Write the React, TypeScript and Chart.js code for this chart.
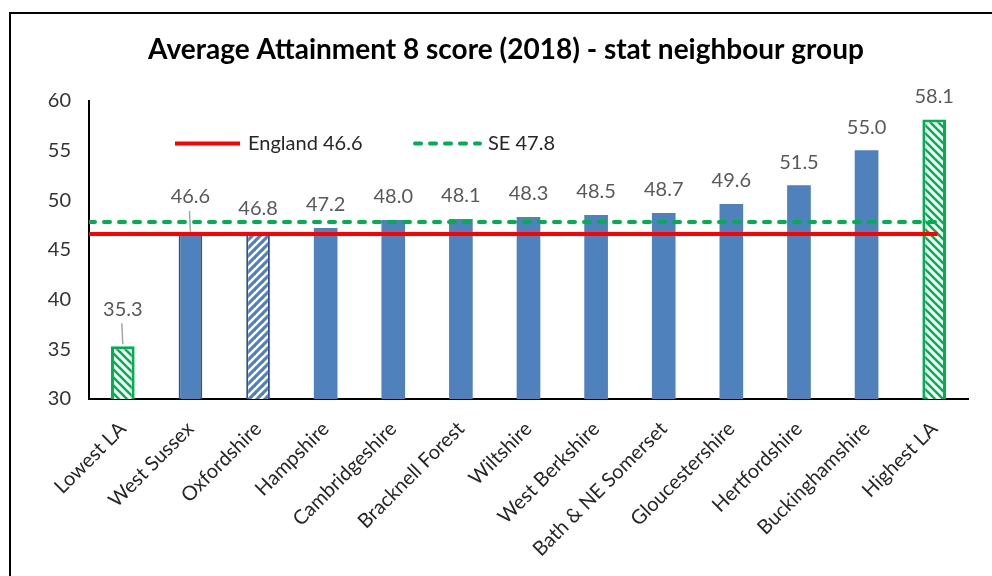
import React, { useEffect, useRef } from "react";
import { Chart, registerables } from "chart.js";

Chart.register(...registerables);

// ---- data ----
const categories = [
  "Lowest LA",
  "West Sussex",
  "Oxfordshire",
  "Hampshire",
  "Cambridgeshire",
  "Bracknell Forest",
  "Wiltshire",
  "West Berkshire",
  "Bath & NE Somerset",
  "Gloucestershire",
  "Hertfordshire",
  "Buckinghamshire",
  "Highest LA",
];
const scores = [35.3, 46.6, 46.8, 47.2, 48.0, 48.1, 48.3, 48.5, 48.7, 49.6, 51.5, 55.0, 58.1];
const englandAvg = 46.6;
const seAvg = 47.8;
const englandLabel = "England 46.6";
const seLabel = "SE 47.8";
// reference lines run (in category units) from the y axis to the last bar
const refLineSpan = [-0.5, 12.05];
const yMin = 30;
const yMax = 60;
const yStep = 5;
const titleText = "Average Attainment 8 score (2018) - stat neighbour group";

// ---- styles ----
const FONT = "Lato, 'Open Sans', sans-serif";
const BLUE = "#4F81BD";
const DARK_BLUE = "#2F528F";
const GREEN = "#00B050";
const RED = "#FF0000";

function makeHatch(color: string, dir: "back" | "fwd", width: number) {
  const s = 8;
  const c = document.createElement("canvas");
  c.width = s;
  c.height = s;
  const g = c.getContext("2d")!;
  g.fillStyle = "#ffffff";
  g.fillRect(0, 0, s, s);
  g.strokeStyle = color;
  g.lineWidth = width;
  for (let k = -1; k <= 1; k++) {
    g.beginPath();
    if (dir === "back") {
      g.moveTo(k * s - 2, -2);
      g.lineTo(k * s + s + 2, s + 2);
    } else {
      g.moveTo(k * s + s + 2, -2);
      g.lineTo(k * s - 2, s + 2);
    }
    g.stroke();
  }
  return g.createPattern(c, "repeat")!;
}

const valueLabelPlugin = {
  id: "valueLabels",
  afterDatasetsDraw(chart: any) {
    const meta = chart.getDatasetMeta(0);
    const ctx = chart.ctx as CanvasRenderingContext2D;
    ctx.save();
    ctx.font = `20px ${FONT}`;
    ctx.fillStyle = "#595959";
    ctx.textAlign = "center";
    ctx.textBaseline = "middle";
    meta.data.forEach((el: any, i: number) => {
      const leader = i < 2;
      const lift = leader ? 37 : 23;
      const ty = el.y - lift;
      ctx.fillText(scores[i].toFixed(1), el.x, ty);
      if (leader) {
        ctx.strokeStyle = "#A6A6A6";
        ctx.lineWidth = 1.5;
        ctx.beginPath();
        ctx.moveTo(el.x - 1, ty + 14);
        ctx.lineTo(el.x, el.y - 2);
        ctx.stroke();
      }
    });
    ctx.restore();
  },
};

const legendPlugin = {
  id: "innerLegend",
  afterDraw(chart: any) {
    const ctx = chart.ctx as CanvasRenderingContext2D;
    const area = chart.chartArea;
    const y = area.top + 43;
    const items = [
      { ds: chart.data.datasets[1], x: area.left + 86 },
      { ds: chart.data.datasets[2], x: area.left + 326 },
    ];
    ctx.save();
    items.forEach(({ ds, x }) => {
      ctx.strokeStyle = ds.borderColor;
      ctx.lineWidth = ds.borderWidth;
      ctx.lineCap = ds.borderDash && ds.borderDash.length ? "round" : "butt";
      ctx.setLineDash(ds.borderDash || []);
      ctx.beginPath();
      ctx.moveTo(x, y);
      ctx.lineTo(x + 65, y);
      ctx.stroke();
      ctx.setLineDash([]);
      ctx.font = `20px ${FONT}`;
      ctx.fillStyle = "#262626";
      ctx.textAlign = "left";
      ctx.textBaseline = "middle";
      ctx.fillText(ds.label, x + 73, y);
    });
    ctx.restore();
  },
};

export default function App() {
  const ref = useRef<HTMLCanvasElement | null>(null);

  useEffect(() => {
    if (!ref.current) return;
    const greenHatch = makeHatch(GREEN, "back", 2.6);
    const blueHatch = makeHatch(BLUE, "fwd", 3.2);
    const last = categories.length - 1;
    const bg = scores.map((_, i) =>
      i === 0 || i === last ? greenHatch : i === 2 ? blueHatch : BLUE
    );
    const border = scores.map((_, i) =>
      i === 0 || i === last ? GREEN : i === 1 || i === 2 ? DARK_BLUE : BLUE
    );
    const bw = scores.map((_, i) => (i === 0 || i === last ? 3 : i === 1 || i === 2 ? 2 : 0));

    const chart = new Chart(ref.current, {
      type: "bar",
      data: {
        labels: categories,
        datasets: [
          {
            type: "bar",
            label: "Score",
            xAxisID: "x",
            data: scores,
            backgroundColor: bg as any,
            borderColor: border,
            borderWidth: bw,
            borderSkipped: false,
            barPercentage: 0.35,
            categoryPercentage: 1,
            grouped: false,
            order: 1,
          } as any,
          {
            type: "line",
            label: englandLabel,
            xAxisID: "x2",
            data: refLineSpan.map((x) => ({ x, y: englandAvg })),
            borderColor: RED,
            borderWidth: 4,
            pointRadius: 0,
            order: 0,
          } as any,
          {
            type: "line",
            label: seLabel,
            xAxisID: "x2",
            data: refLineSpan.map((x) => ({ x, y: seAvg })),
            borderColor: GREEN,
            borderWidth: 4,
            borderDash: [6, 9],
            borderCapStyle: "round",
            pointRadius: 0,
            order: 0,
          } as any,
        ],
      },
      options: {
        responsive: false,
        animation: false,
        devicePixelRatio: 1,
        layout: { padding: { left: 44, right: 24, top: 0, bottom: 0 } },
        plugins: {
          legend: { display: false },
          tooltip: { enabled: false },
          title: {
            display: true,
            text: titleText,
            color: "#000000",
            font: { family: FONT, size: 28, weight: "bold" },
            padding: { top: 33, bottom: 34 },
          },
        },
        scales: {
          x: {
            type: "category",
            offset: true,
            grid: { display: false, drawTicks: false },
            border: { display: true, color: "#000000", width: 2 },
            ticks: {
              minRotation: 45,
              maxRotation: 45,
              autoSkip: false,
              padding: 18,
              labelOffset: 0,
              color: "#262626",
              font: { family: FONT, size: 20 },
            },
            afterFit: (s: any) => {
              s.height = 177;
            },
          },
          x2: {
            type: "linear",
            min: -0.5,
            max: categories.length - 0.5,
            offset: false,
            grid: { offset: false },
            display: false,
          },
          y: {
            min: yMin,
            max: yMax,
            grid: { display: false, drawTicks: false },
            border: { display: true, color: "#000000", width: 2 },
            ticks: {
              stepSize: yStep,
              padding: 18,
              color: "#333333",
              font: { family: FONT, size: 20 },
            },
            afterFit: (s: any) => {
              s.width = 45;
            },
          },
        },
      } as any,
      plugins: [valueLabelPlugin, legendPlugin],
    });
    return () => chart.destroy();
  }, []);

  return (
    <div
      style={{
        position: "fixed",
        left: 0,
        top: 0,
        width: 992,
        height: 576,
        overflow: "hidden",
        background: "#ffffff",
      }}
    >
      <canvas ref={ref} width={992} height={576} style={{ display: "block", position: "absolute", left: 0, top: 0 }} />
      <div
        style={{
          position: "absolute",
          left: 9,
          top: 12,
          width: 1100,
          height: 700,
          border: "2px solid #000",
          pointerEvents: "none",
        }}
      />
    </div>
  );
}
